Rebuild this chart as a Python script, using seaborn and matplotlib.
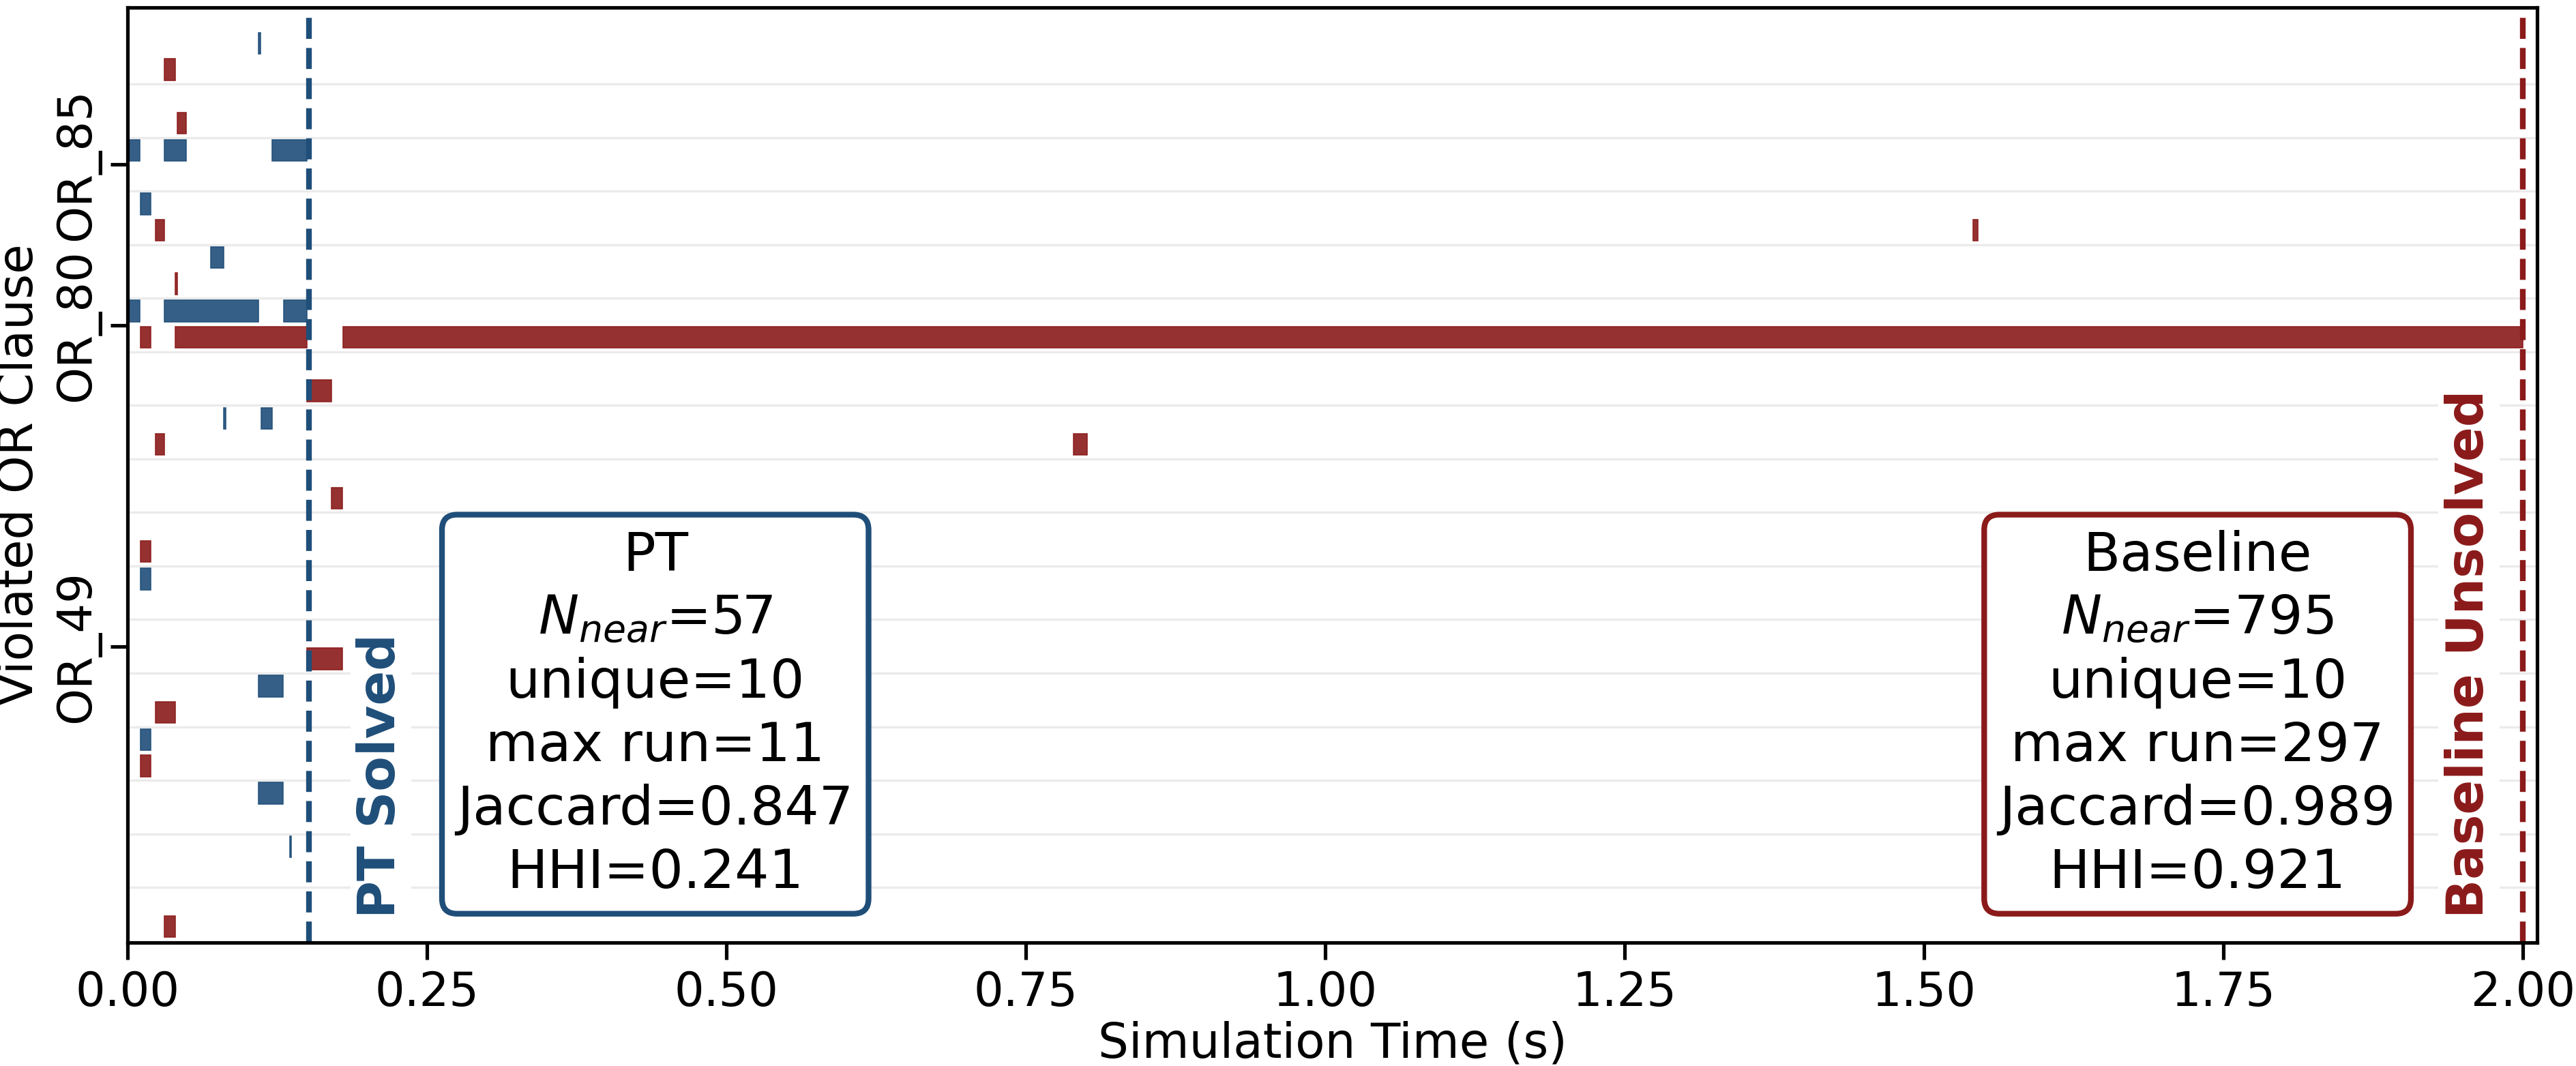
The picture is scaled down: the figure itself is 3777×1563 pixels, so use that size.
import numpy as np
import matplotlib
matplotlib.use("Agg")
import matplotlib.pyplot as plt
import matplotlib.transforms as mtransforms
import seaborn as sns

# Colours for the two solvers
PT_COLOR = "#1f4e79"
BL_COLOR = "#8b1a1a"

# Clause rows (0 = top) and the few labelled ticks
n_clauses = 17
tick_rows = [2, 5, 11]
tick_labels = ["OR_85", "OR_80", "OR_49"]

# PT violation intervals (s)
pt_rows = [0, 2, 2, 2, 3, 4, 5, 5, 5, 7, 7, 10, 12, 13, 14, 15]
pt_start = [0.1095, 0.0, 0.0306, 0.1207, 0.0108, 0.0695, 0.0, 0.0306,
            0.1302, 0.0805, 0.1114, 0.0108, 0.1095, 0.0108, 0.1095, 0.1355]
pt_end = [0.1110, 0.0102, 0.0488, 0.1500, 0.0194, 0.0801, 0.0102, 0.1095,
          0.1500, 0.0818, 0.1207, 0.0194, 0.1298, 0.0194, 0.1298, 0.1368]

# Baseline violation intervals (s)
bl_rows = [0, 1, 3, 3, 4, 5, 5, 5, 6, 7, 7, 8, 9, 11, 12, 13, 16]
bl_start = [0.0306, 0.0416, 0.0235, 1.541, 0.0400, 0.0108, 0.0400, 0.1798,
            0.1500, 0.0235, 0.790, 0.1703, 0.0108, 0.1500, 0.0235, 0.0108, 0.0306]
bl_end = [0.0397, 0.0488, 0.0306, 1.545, 0.0416, 0.0194, 0.1500, 2.0,
          0.1700, 0.0306, 0.801, 0.1796, 0.0194, 0.1796, 0.0397, 0.0194, 0.0397]

pt_solved_time = 0.1515
bl_stop_time = 2.0

# Summary statistics
pt_stats = {"N": 57, "unique": 10, "max_run": 11, "jaccard": 0.847, "hhi": 0.241}
bl_stats = {"N": 795, "unique": 10, "max_run": 297, "jaccard": 0.989, "hhi": 0.921}


def stats_text(name, s):
    return (f"{name}\n$N_{{near}}$={s['N']}\nunique={s['unique']}\n"
            f"max run={s['max_run']}\nJaccard={s['jaccard']:.3f}\nHHI={s['hhi']:.3f}")


sns.set_theme(style="ticks", rc={
    "axes.edgecolor": "black",
    "xtick.color": "black",
    "ytick.color": "black",
    "text.color": "black",
    "axes.labelcolor": "black",
})
plt.rcParams["font.family"] = ["DejaVu Sans"]

fig = plt.figure(figsize=(12.59, 5.21), dpi=300)
ax = fig.add_axes([0.0495, 0.1158, 0.9355, 0.8772])

pt_s = np.array(pt_start)
pt_e = np.array(pt_end)
bl_s = np.array(bl_start)
bl_e = np.array(bl_end)

ax.barh(np.array(pt_rows) - 0.26, pt_e - pt_s, left=pt_s, height=0.4,
        color=PT_COLOR, alpha=0.9, edgecolor=PT_COLOR, linewidth=0.4)
ax.barh(np.array(bl_rows) + 0.23, bl_e - bl_s, left=bl_s, height=0.4,
        color=BL_COLOR, alpha=0.9, edgecolor=BL_COLOR, linewidth=0.4)

ax.axvline(pt_solved_time, color=PT_COLOR, ls="--", lw=2.0)
ax.axvline(bl_stop_time, color=BL_COLOR, ls="--", lw=2.0)

# clause separators
ax.set_yticks(np.arange(n_clauses - 1) + 0.5, minor=True)
ax.grid(False)
ax.grid(which="minor", axis="y", color="#ebebeb", lw=0.8)
ax.tick_params(axis="y", which="minor", length=0)
ax.set_axisbelow(True)

ax.set_yticks(tick_rows)
ax.set_yticklabels(tick_labels, rotation=90, va="center", fontsize=16.5)
ax.set_xticks(np.arange(0, 2.01, 0.25))
ax.set_xticklabels([f"{v:.2f}" for v in np.arange(0, 2.01, 0.25)], fontsize=16.5)
ax.set_xlim(0, 2.012)
ax.set_ylim(16.53, -0.93)

ax.set_xlabel("Simulation Time (s)", fontsize=17, labelpad=2)
ax.set_ylabel("Violated OR Clause", fontsize=17)

trans = mtransforms.blended_transform_factory(ax.transData, ax.transAxes)
ax.text(pt_solved_time + 0.06, 0.026, "PT Solved", transform=trans, rotation=90,
        ha="center", va="bottom", fontsize=18, fontweight="bold", color=PT_COLOR,
        bbox=dict(facecolor="white", edgecolor="none", pad=2))
ax.text(bl_stop_time - 0.045, 0.026, "Baseline Unsolved", transform=trans, rotation=90,
        ha="center", va="bottom", fontsize=18, fontweight="bold", color=BL_COLOR,
        bbox=dict(facecolor="white", edgecolor="none", pad=2))

ax.text(0.219, 0.047, stats_text("PT", pt_stats), transform=ax.transAxes,
        ha="center", va="bottom", fontsize=19, linespacing=1.28,
        bbox=dict(boxstyle="round,pad=0.28", facecolor="white",
                  edgecolor=PT_COLOR, linewidth=2))
ax.text(0.859, 0.047, stats_text("Baseline", bl_stats), transform=ax.transAxes,
        ha="center", va="bottom", fontsize=19, linespacing=1.28,
        bbox=dict(boxstyle="round,pad=0.28", facecolor="white",
                  edgecolor=BL_COLOR, linewidth=2))

fig.savefig("out.png", dpi=300)
plt.close(fig)
